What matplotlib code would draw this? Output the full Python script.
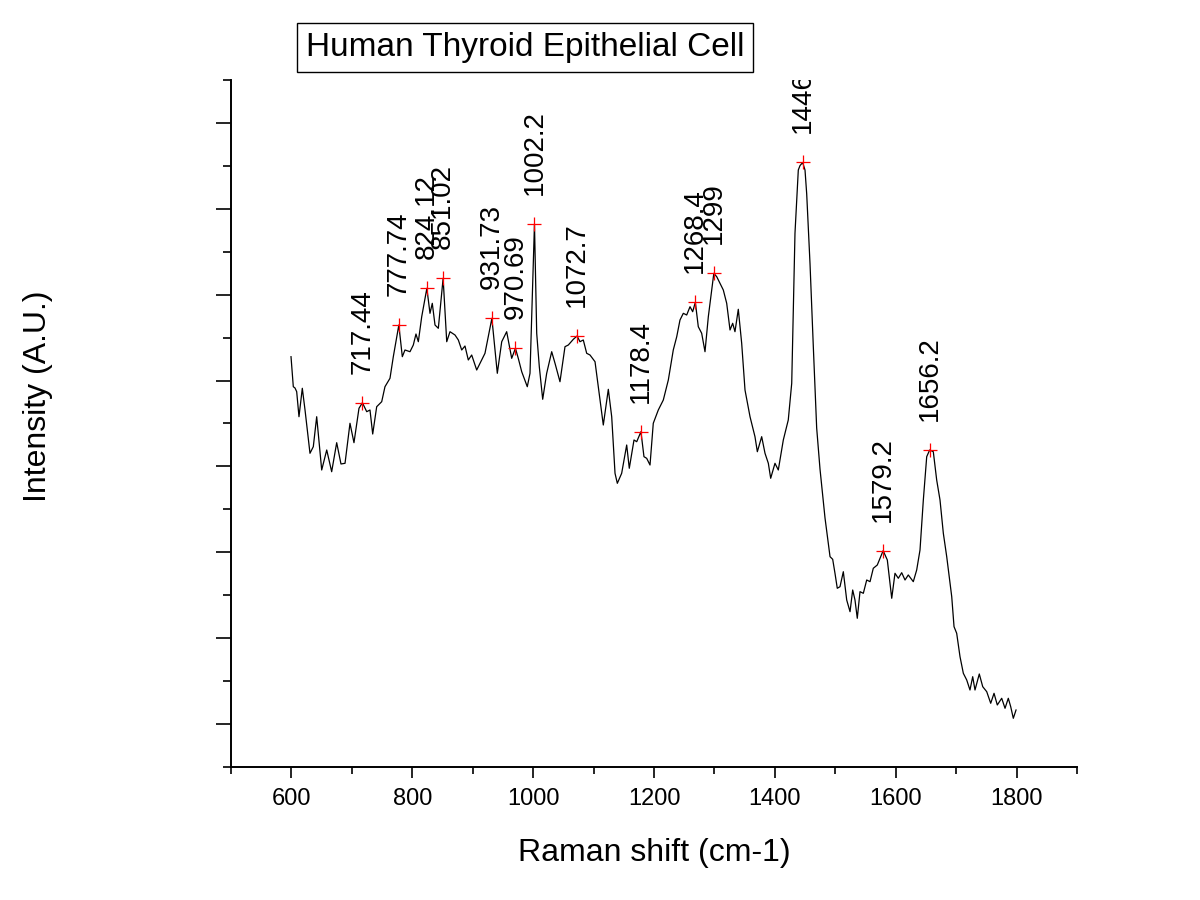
import matplotlib
matplotlib.use('Agg')
import matplotlib.pyplot as plt
from matplotlib.ticker import MultipleLocator, FixedLocator

plt.rcParams['font.family'] = ['Liberation Sans', 'DejaVu Sans']

# Raman spectrum (cm-1, arbitrary units)
shift = [599.3, 603.1, 605.9, 608.7, 612.5, 618.0, 622.5, 630.7, 636.2, 641.8,
         650.1, 658.4, 666.6, 674.9, 682.0, 688.7, 696.9, 703.5, 711.8, 717.44,
         724.6, 730.0, 734.5, 741.1, 749.4, 754.8, 763.1, 768.6, 777.74, 783.5,
         787.9, 796.2, 801.7, 806.1, 810.0, 815.6, 824.12, 829.3, 833.1, 837.6,
         843.1, 851.02, 857.0, 862.4, 870.7, 876.2, 881.8, 887.2, 892.7, 898.3,
         906.6, 914.9, 920.3, 931.73, 940.7, 948.0, 956.2, 964.5, 970.69, 975.4,
         981.1, 990.3, 994.8, 1002.2, 1005.9, 1010.2, 1015.8, 1022.4, 1030.7, 1036.2,
         1044.4, 1052.7, 1058.2, 1066.5, 1072.7, 1077.5, 1083.0, 1088.6, 1094.1, 1102.4,
         1107.8, 1116.1, 1124.4, 1130.0, 1135.5, 1139.3, 1146.5, 1154.8, 1159.1, 1166.9,
         1171.4, 1178.4, 1183.4, 1187.9, 1193.4, 1198.8, 1207.1, 1215.4, 1223.7, 1231.9,
         1237.6, 1243.0, 1248.5, 1254.1, 1259.6, 1264.0, 1268.4, 1273.3, 1278.9, 1284.4,
         1289.9, 1299.0, 1303.8, 1309.2, 1314.7, 1320.3, 1325.8, 1330.2, 1334.0, 1339.5,
         1345.1, 1350.6, 1358.9, 1367.1, 1371.0, 1378.2, 1383.7, 1389.2, 1393.1, 1400.2,
         1405.7, 1414.0, 1422.2, 1427.9, 1433.3, 1438.8, 1441.6, 1446.0, 1449.9, 1452.7,
         1458.2, 1463.6, 1469.2, 1474.7, 1483.0, 1491.3, 1495.7, 1499.5, 1503.3, 1507.8,
         1513.3, 1518.9, 1524.4, 1528.8, 1532.6, 1536.4, 1540.9, 1546.4, 1552.0, 1557.5,
         1562.9, 1569.5, 1579.2, 1586.1, 1593.4, 1598.8, 1604.3, 1609.9, 1615.4, 1620.8,
         1629.1, 1634.7, 1640.2, 1645.7, 1651.3, 1656.2, 1662.2, 1667.8, 1673.3, 1678.8,
         1684.4, 1692.7, 1696.5, 1700.9, 1706.4, 1711.9, 1717.5, 1722.9, 1727.4, 1731.2,
         1738.3, 1744.0, 1750.6, 1757.2, 1762.7, 1768.1, 1775.4, 1780.9, 1786.3, 1790.3,
         1794.6, 1799.1]
intensity = [9.556, 8.857, 8.827, 8.741, 8.158, 8.820, 8.314, 7.306, 7.460, 8.158,
             6.917, 7.383, 6.877, 7.553, 7.057, 7.073, 8.005, 7.553, 8.354, 8.484,
             8.275, 8.314, 7.755, 8.391, 8.508, 8.857, 9.053, 9.556, 10.294, 9.556,
             9.712, 9.672, 9.828, 10.084, 9.905, 10.487, 11.149, 10.566, 10.799, 10.294,
             10.217, 11.382, 9.905, 10.138, 10.061, 9.945, 9.712, 9.805, 9.479, 9.595,
             9.246, 9.479, 9.635, 10.450, 9.169, 9.905, 10.138, 9.518, 9.751, 9.518,
             9.206, 8.857, 9.169, 12.646, 10.101, 9.323, 8.564, 9.169, 9.672, 9.402,
             8.973, 9.789, 9.828, 9.961, 10.038, 9.905, 9.945, 9.635, 9.595, 9.439,
             8.857, 7.965, 8.796, 8.158, 6.840, 6.607, 6.840, 7.499, 6.957, 7.616,
             7.576, 7.809, 7.227, 7.189, 7.033, 8.005, 8.314, 8.547, 9.013, 9.712,
             10.021, 10.410, 10.566, 10.527, 10.720, 10.604, 10.823, 10.254, 10.101, 9.672,
             10.487, 11.498, 11.419, 11.265, 11.109, 10.799, 10.178, 10.334, 10.138, 10.660,
             9.868, 8.780, 8.158, 7.693, 7.343, 7.693, 7.306, 7.073, 6.724, 7.073,
             6.917, 7.616, 8.082, 8.936, 12.430, 13.904, 14.006, 14.079, 13.904, 13.345,
             11.715, 9.805, 7.895, 6.940, 5.799, 4.898, 4.837, 4.511, 4.162, 4.199,
             4.548, 3.889, 3.617, 4.122, 3.889, 3.463, 4.083, 4.045, 4.355, 4.316,
             4.628, 4.704, 5.038, 4.821, 3.929, 4.511, 4.395, 4.525, 4.355, 4.472,
             4.316, 4.588, 5.054, 6.218, 7.227, 7.383, 7.343, 6.684, 6.218, 5.443,
             4.898, 3.966, 3.268, 3.114, 2.569, 2.182, 2.026, 1.793, 2.103, 1.793,
             2.166, 1.870, 1.754, 1.484, 1.716, 1.444, 1.600, 1.367, 1.600, 1.404,
             1.134, 1.327]

# picked peaks
peak_shift = [717.44, 777.74, 824.12, 851.02, 931.73, 970.69, 1002.2, 1072.7,
              1178.4, 1268.4, 1299, 1446, 1579.2, 1656.2]
peak_int = [8.484, 10.294, 11.149, 11.382, 10.450, 9.751, 12.646, 10.038,
            7.809, 10.823, 11.498, 14.079, 5.038, 7.383]
peak_text = ['717.44', '777.74', '824.12', '851.02', '931.73', '970.69', '1002.2',
             '1072.7', '1178.4', '1268.4', '1299', '1446', '1579.2', '1656.2']

fig = plt.figure(figsize=(12, 9), dpi=100)
ax = fig.add_axes([0.1925, 0.1478, 0.705, 0.7633])

ax.plot(shift, intensity, color='black', lw=0.9)
ax.plot(peak_shift, peak_int, ls='none', marker='+', color='red',
        markersize=10, markeredgewidth=0.9)

for x, y, t in zip(peak_shift, peak_int, peak_text):
    a = ax.annotate(t, (x, y), xytext=(0, 21), textcoords='offset points',
                    rotation=90, ha='center', va='bottom', fontsize=20,
                    annotation_clip=False)
    a.set_clip_on(True)
    a.set_clip_box(ax.bbox)

ax.set_xlim(500, 1900)
ax.set_ylim(0, 16)

for s in ['top', 'right']:
    ax.spines[s].set_visible(False)
for s in ['left', 'bottom']:
    ax.spines[s].set_linewidth(1.4)

ax.xaxis.set_major_locator(FixedLocator([600, 800, 1000, 1200, 1400, 1600, 1800]))
ax.xaxis.set_minor_locator(FixedLocator([500, 700, 900, 1100, 1300, 1500, 1700, 1900]))
ax.yaxis.set_major_locator(FixedLocator([1, 3, 5, 7, 9, 11, 13, 15]))
ax.yaxis.set_minor_locator(MultipleLocator(2))
ax.tick_params(axis='x', which='major', direction='out', length=8, width=1.2,
               labelsize=17, pad=7)
ax.tick_params(axis='x', which='minor', direction='out', length=5, width=1.2)
ax.tick_params(axis='y', which='major', direction='out', length=11, width=1.2,
               labelleft=False)
ax.tick_params(axis='y', which='minor', direction='out', length=6, width=1.2)

ax.set_xlabel('Raman shift (cm-1)', fontsize=23)
ax.xaxis.set_label_coords(0.5, -0.104)
ax.set_ylabel('Intensity (A.U.)', fontsize=23)
ax.yaxis.set_label_coords(-0.21, 0.539)

ax.text(0.3475, 1.0466, 'Human Thyroid Epithelial Cell', transform=ax.transAxes,
        ha='center', va='center', fontsize=24,
        bbox=dict(boxstyle='square,pad=0.27', facecolor='white',
                  edgecolor='black', lw=1))

fig.savefig('out.png', dpi=100)
